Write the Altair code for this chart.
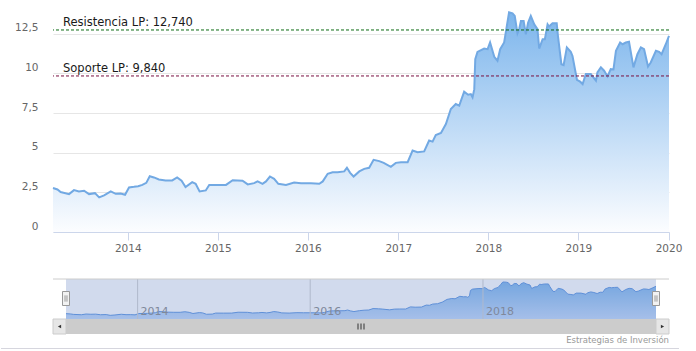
import altair as alt
import pandas as pd

FONT = "DejaVu Sans"

dates = [
    "2013-03-04", "2013-03-22", "2013-04-04", "2013-05-08", "2013-05-28", "2013-06-17", "2013-07-08",
    "2013-07-28", "2013-08-21", "2013-09-07", "2013-09-27", "2013-10-24", "2013-11-13", "2013-12-03",
    "2013-12-21",
    "2014-01-06", "2014-01-26", "2014-02-12", "2014-03-01", "2014-03-17", "2014-03-31", "2014-04-17",
    "2014-05-07", "2014-06-03", "2014-06-30", "2014-07-20", "2014-08-07", "2014-08-23", "2014-09-19",
    "2014-10-03", "2014-10-19", "2014-11-13", "2014-11-27", "2014-12-31",
    "2015-02-03", "2015-03-02", "2015-04-11", "2015-05-02", "2015-05-28", "2015-06-11", "2015-07-01",
    "2015-07-15", "2015-07-31", "2015-08-17", "2015-09-03", "2015-10-04", "2015-11-06", "2015-12-04",
    "2016-01-13", "2016-02-16", "2016-03-01", "2016-03-21", "2016-04-10", "2016-04-30", "2016-05-27",
    "2016-06-07", "2016-06-20", "2016-07-04", "2016-07-27", "2016-08-16", "2016-09-05", "2016-09-23",
    "2016-10-16", "2016-11-03", "2016-12-02", "2016-12-22",
    "2017-01-12", "2017-02-08", "2017-02-28", "2017-03-20", "2017-04-16", "2017-05-06", "2017-05-20",
    "2017-06-02", "2017-06-23", "2017-07-13", "2017-08-02", "2017-08-22", "2017-09-05", "2017-09-25",
    "2017-10-11", "2017-10-22", "2017-10-29", "2017-11-05", "2017-11-09", "2017-11-18", "2017-12-15",
    "2017-12-29",
    "2018-01-08", "2018-01-25", "2018-02-07", "2018-02-18", "2018-03-06", "2018-03-17", "2018-03-26",
    "2018-04-09", "2018-04-18", "2018-04-29", "2018-05-06", "2018-05-13", "2018-05-24", "2018-06-02",
    "2018-06-11", "2018-06-22", "2018-07-06", "2018-07-19", "2018-07-26", "2018-08-09", "2018-08-18",
    "2018-08-29", "2018-09-04", "2018-09-18", "2018-10-05", "2018-10-10", "2018-10-24", "2018-11-02",
    "2018-11-15", "2018-12-01", "2018-12-08", "2018-12-26",
    "2019-01-08", "2019-01-18", "2019-01-31", "2019-02-20", "2019-03-13", "2019-03-19", "2019-04-02",
    "2019-04-15", "2019-04-29", "2019-05-12", "2019-05-23", "2019-06-02", "2019-06-19", "2019-06-29",
    "2019-07-12", "2019-07-25", "2019-08-12", "2019-08-28", "2019-09-11", "2019-09-24", "2019-10-10",
    "2019-10-21", "2019-11-11", "2019-11-24", "2019-12-04", "2019-12-21", "2020-01-03",
]

values = [
    2.77, 2.68, 2.52, 2.39, 2.64, 2.56, 2.60, 2.39, 2.45, 2.18, 2.31, 2.56, 2.41, 2.43, 2.35,
    2.81, 2.85, 2.89, 2.97, 3.10, 3.52, 3.44, 3.31, 3.25, 3.25, 3.44, 3.23, 2.83, 3.14, 3.04,
    2.56, 2.62, 2.97, 2.96,
    2.97, 3.27, 3.23, 3.00, 3.08, 3.19, 3.04, 3.19, 3.50, 3.35, 3.04, 2.97, 3.12, 3.08,
    3.08, 3.04, 3.19, 3.67, 3.77, 3.77, 3.82, 4.05, 3.73, 3.50, 3.82, 3.98, 4.05, 4.55, 4.47,
    4.36, 4.11, 4.36,
    4.40, 4.40, 5.14, 5.03, 5.08, 5.77, 5.70, 6.12, 6.25, 6.81, 7.76, 8.07, 7.97, 8.85, 8.66,
    8.70, 8.49, 9.01, 10.90, 11.36, 11.57, 11.53,
    11.95, 11.05, 10.80, 11.53, 11.95, 13.00, 13.85, 13.79, 13.63, 12.53, 12.80, 13.30, 13.30,
    12.47, 13.20, 13.63, 13.10, 12.79, 11.57, 12.16, 12.16, 13.10, 12.96, 13.16, 13.16, 12.37,
    10.58, 10.52, 11.64, 11.36, 11.10, 9.60,
    9.48, 9.33, 9.96, 9.96, 9.54, 10.06, 10.38, 10.17, 9.81, 10.27, 10.25, 11.43, 11.95, 11.84,
    11.95, 12.00, 10.38, 11.21, 11.64, 11.53, 10.44, 10.69, 11.43, 11.36, 11.21, 11.84, 12.37,
]

level_values = [12.74, 9.84]
level_labels = ["Resistencia LP: 12,740", "Soporte LP: 9,840"]
level_colors = ["#0b6a12", "#7a1040"]

y_ticks = [0, 2.5, 5, 7.5, 10, 12.5]
x_years = [2014, 2015, 2016, 2017, 2018, 2019, 2020]
nav_years = [2014, 2016, 2018]
nav_domain = ["2013-01-08", "2020-02-27"]
credits_text = "Estrategias de Inversión"


def dt(s):
    y, m, d = (int(p) for p in s.split("-"))
    return alt.DateTime(year=y, month=m, date=d)


df = pd.DataFrame({"date": pd.to_datetime(dates), "value": values})
levels = pd.DataFrame({"value": level_values, "label": level_labels, "color": level_colors})
nav_years_df = pd.DataFrame({
    "date": pd.to_datetime([f"{y}-01-01" for y in nav_years]),
    "label": [str(y) for y in nav_years],
})
mask_df = pd.DataFrame({"start": [pd.Timestamp(dates[0])], "end": [pd.Timestamp(dates[-1])]})
handles_df = pd.DataFrame({"date": pd.to_datetime([dates[0], dates[-1]])})
one = pd.DataFrame({"k": [0]})

W = 616
MAIN_H = 222
NAV_H = 40

# ---------------- main chart ----------------
x_main_scale = alt.Scale(domain=[dt(dates[0]), dt(dates[-1])], nice=False)
y_main_scale = alt.Scale(domain=[0, 14], nice=False)

x_main = alt.X(
    "date:T", scale=x_main_scale,
    axis=alt.Axis(
        values=[alt.DateTime(year=y, month=1, date=1) for y in x_years],
        format="%Y", title=None, grid=False,
        labelColor="#666666", labelFont=FONT, labelFontSize=10.5,
        labelFlush=False, labelOverlap=False, labelBound=False,
        tickColor="#ccd6eb", tickSize=8, domainColor="#ccd6eb", labelPadding=3,
    ),
)
y_main = alt.Y(
    "value:Q", scale=y_main_scale,
    axis=alt.Axis(
        values=y_ticks, title=None, domain=False, ticks=False, tickSize=0,
        labelPadding=15, labelColor="#666666", labelFont=FONT, labelFontSize=10.5,
        gridColor="#e6e6e6", labelBaseline="alphabetic", labelOffset=-3,
        labelExpr="replace(format(datum.value, '~g'), '.', ',')",
    ),
)

main_grad = alt.Gradient(
    gradient="linear",
    stops=[alt.GradientStop(color="#7cb5ec", offset=0), alt.GradientStop(color="#fcfdff", offset=1)],
    x1=1, x2=1, y1=0, y2=1,
)

area = alt.Chart(df).mark_area(color=main_grad).encode(x=x_main, y=y_main)
line = alt.Chart(df).mark_line(color="#72a9e3", strokeWidth=2).encode(
    x=alt.X("date:T", scale=x_main_scale), y=alt.Y("value:Q", scale=y_main_scale))
rules = alt.Chart(levels).mark_rule(strokeDash=[3, 2], strokeWidth=1).encode(
    y=alt.Y("value:Q", scale=y_main_scale), color=alt.Color("color:N", scale=None))
labels = alt.Chart(levels).mark_text(
    align="left", baseline="alphabetic", dy=-4, font=FONT, fontSize=11.5, color="#1a1a1a"
).encode(y=alt.Y("value:Q", scale=y_main_scale), x=alt.value(10), text="label:N")

main = alt.layer(area, line, rules, labels).properties(width=W, height=MAIN_H)

# ---------------- navigator ----------------
xn_scale = alt.Scale(domain=[dt(nav_domain[0]), dt(nav_domain[1])], nice=False)
yn_scale = alt.Scale(domain=[0.9, 14.9], nice=False, zero=False)

nav_grad = alt.Gradient(
    gradient="linear",
    stops=[alt.GradientStop(color="#7cb5ec", offset=0), alt.GradientStop(color="#c6dbfa", offset=1)],
    x1=1, x2=1, y1=0, y2=1,
)

nav_area = alt.Chart(df).mark_area(color=nav_grad).encode(
    x=alt.X("date:T", scale=xn_scale, axis=None),
    y=alt.Y("value:Q", scale=yn_scale, axis=None),
    y2=alt.value(NAV_H),
)
nav_line = alt.Chart(df).mark_line(color="#5c95e1", strokeWidth=1).encode(
    x=alt.X("date:T", scale=xn_scale, axis=None), y=alt.Y("value:Q", scale=yn_scale, axis=None))
nav_grid = alt.Chart(nav_years_df).mark_rule(color="#d0d0d0", strokeWidth=1).encode(
    x=alt.X("date:T", scale=xn_scale, axis=None))
nav_text = alt.Chart(nav_years_df).mark_text(
    align="left", baseline="alphabetic", dx=3, font=FONT, fontSize=11, color="#8a8a8a"
).encode(x=alt.X("date:T", scale=xn_scale, axis=None), y=alt.value(36), text="label:N")
nav_mask = alt.Chart(mask_df).mark_rect(fill="rgba(102,133,194,0.3)").encode(
    x=alt.X("start:T", scale=xn_scale, axis=None), x2="end:T",
    y=alt.value(0), y2=alt.value(NAV_H))
nav_top = alt.Chart(one).mark_rule(color="#cccccc").encode(
    x=alt.value(0), x2=alt.value(W), y=alt.value(0))
handle_path = ("M-0.5,-1L0.5,-1L0.5,1L-0.5,1Z"
               "M-0.14,-0.45L-0.14,0.45M0.14,-0.45L0.14,0.45")
nav_handles = alt.Chart(handles_df).mark_point(
    shape=handle_path, size=196, filled=True, fill="#f2f2f2", stroke="#999999",
    strokeWidth=1, opacity=1
).encode(x=alt.X("date:T", scale=xn_scale, axis=None), y=alt.value(19.5))

# scrollbar
sb_track = alt.Chart(one).mark_rect(fill="#cccccc").encode(
    x=alt.value(0), x2=alt.value(W), y=alt.value(NAV_H), y2=alt.value(NAV_H + 15))
sb_left = alt.Chart(one).mark_rect(fill="#e6e6e6", stroke="#cccccc", strokeWidth=1).encode(
    x=alt.value(0), x2=alt.value(13), y=alt.value(NAV_H), y2=alt.value(NAV_H + 15))
sb_right = alt.Chart(one).mark_rect(fill="#e6e6e6", stroke="#cccccc", strokeWidth=1).encode(
    x=alt.value(W - 13), x2=alt.value(W), y=alt.value(NAV_H), y2=alt.value(NAV_H + 15))
sb_arrow_l = alt.Chart(one).mark_point(shape="triangle-left", size=14, filled=True,
                                       color="#333333", opacity=1).encode(
    x=alt.value(6.5), y=alt.value(NAV_H + 7.5))
sb_arrow_r = alt.Chart(one).mark_point(shape="triangle-right", size=14, filled=True,
                                       color="#333333", opacity=1).encode(
    x=alt.value(W - 6.5), y=alt.value(NAV_H + 7.5))
sb_grip = alt.Chart(one).mark_point(
    shape="M-1,-1L-1,1M0,-1L0,1M1,-1L1,1", size=36, stroke="#333333", strokeWidth=1,
    opacity=1
).encode(x=alt.value(W / 2), y=alt.value(NAV_H + 7.5))

credits = alt.Chart(one).mark_text(
    align="right", baseline="alphabetic", font=FONT, fontSize=8.5, color="#999999"
).encode(x=alt.value(W), y=alt.value(64), text=alt.value(credits_text))
bottom_line = alt.Chart(one).mark_rule(color="#d6d6de").encode(
    x=alt.value(-52), x2=alt.value(W + 10), y=alt.value(69.5))

nav = alt.layer(
    nav_area, nav_line, nav_grid, nav_text, nav_mask, nav_top, nav_handles,
    sb_track, sb_left, sb_right, sb_arrow_l, sb_arrow_r, sb_grip, credits, bottom_line,
).properties(width=W, height=NAV_H)

chart = alt.vconcat(main, nav, spacing=47, bounds="flush").properties(
    padding={"left": 0, "top": 8, "right": 5, "bottom": 2}
).configure_view(strokeWidth=0)

chart.save("out.html", embed_options={"renderer": "svg", "actions": False})
